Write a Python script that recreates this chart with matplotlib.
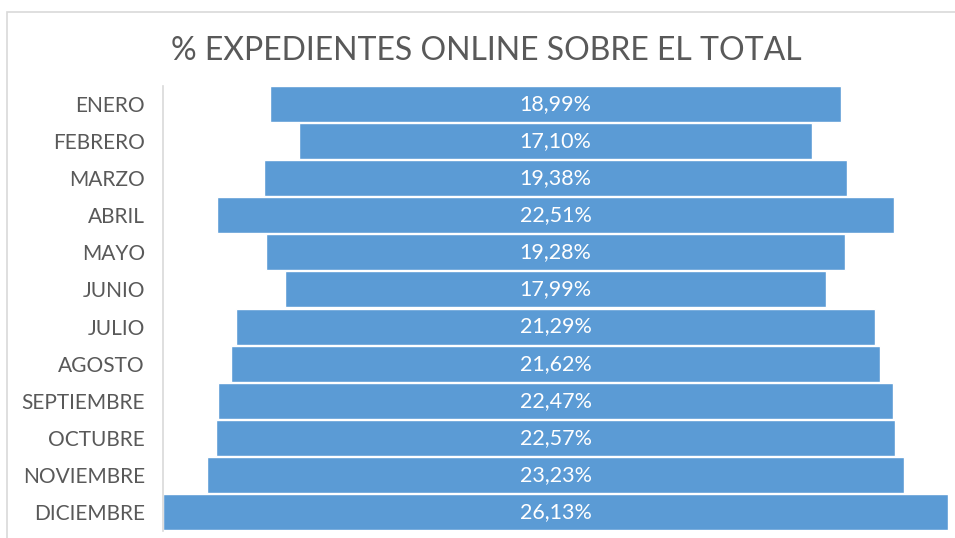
import matplotlib
matplotlib.use("Agg")
import matplotlib.pyplot as plt
from matplotlib.patches import Rectangle

months = ["ENERO", "FEBRERO", "MARZO", "ABRIL", "MAYO", "JUNIO", "JULIO",
          "AGOSTO", "SEPTIEMBRE", "OCTUBRE", "NOVIEMBRE", "DICIEMBRE"]
values = [18.99, 17.10, 19.38, 22.51, 19.28, 17.99, 21.29,
          21.62, 22.47, 22.57, 23.23, 26.13]
labels = ["18,99%", "17,10%", "19,38%", "22,51%", "19,28%", "17,99%", "21,29%",
          "21,62%", "22,47%", "22,57%", "23,23%", "26,13%"]

plt.rcParams['font.family'] = ['Lato', 'DejaVu Sans']

W, H = 955, 538
fig = plt.figure(figsize=(W / 100, H / 100), dpi=100)
fig.patches.append(Rectangle((7 / W, -0.1), 1.2, 1 - 12 / H + 0.1, transform=fig.transFigure,
                             fill=False, edgecolor='#d9d9d9', linewidth=1.2))

ax = fig.add_axes([163 / W, 1 - 530.5 / H, (948 - 163) / W, (530.5 - 85.5) / H])
vmax = max(values)
n = len(values)
ys = list(range(n))[::-1]
lefts = [(vmax - v) / 2 for v in values]
ax.barh(ys, values, left=lefts, height=0.97, color='#5b9bd5', edgecolor='white', linewidth=1.0)
for y, l, v, lab in zip(ys, lefts, values, labels):
    ax.text(l + v / 2, y, lab, ha='center', va='center', color='white', fontsize=15.5)

ax.set_xlim(0, vmax)
ax.set_ylim(-0.5, n - 0.5)
ax.set_yticks(ys)
ax.set_yticklabels(months, fontsize=15, color='#595959')
ax.tick_params(axis='y', length=0, pad=13)
ax.set_xticks([])
for s in ['top', 'right', 'bottom']:
    ax.spines[s].set_visible(False)
ax.spines['left'].set_color('#d9d9d9')
ax.spines['left'].set_linewidth(1.2)

fig.text(486 / W, 1 - 51 / H, "% EXPEDIENTES ONLINE SOBRE EL TOTAL", ha='center', va='center',
         fontsize=23, color='#595959')

fig.savefig("out.png", dpi=100)
